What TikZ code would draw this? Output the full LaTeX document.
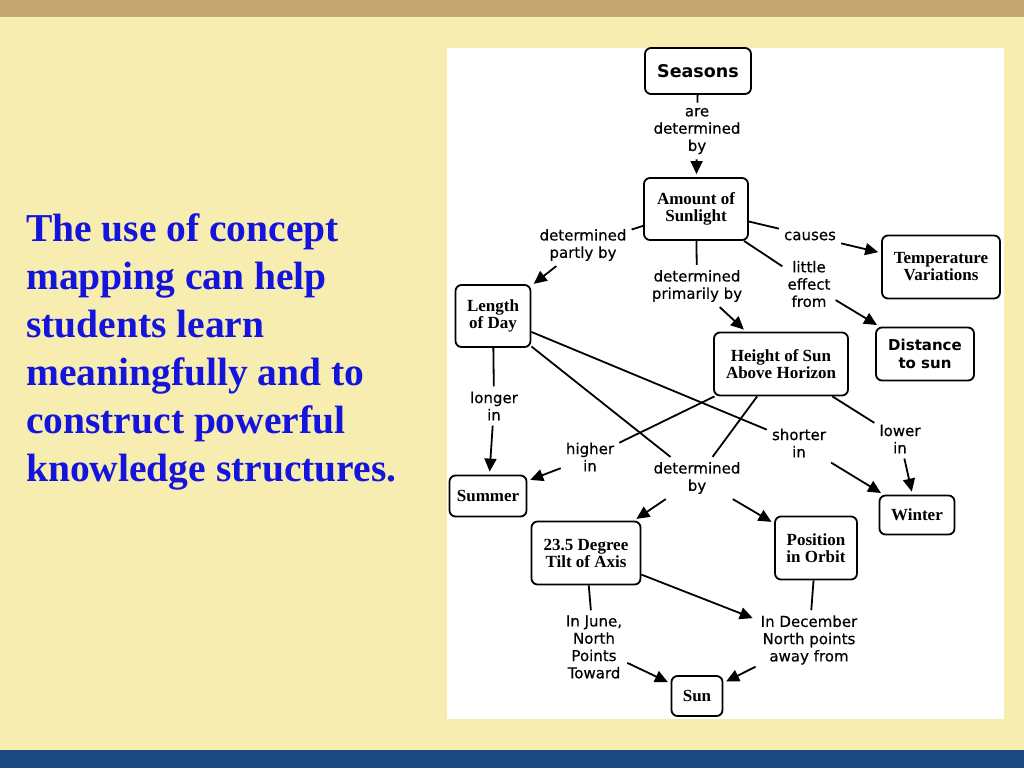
\documentclass[tikz,border=0pt]{standalone}
\usepackage{fontspec}
\setmainfont{Liberation Serif}
\newfontfamily\lblfamily{DejaVu Sans}[FakeBold=0.45]
\newfontfamily\lblboldfamily{DejaVu Sans Bold}
\usetikzlibrary{arrows.meta}
\definecolor{tanband}{HTML}{C5A572}
\definecolor{slidebg}{HTML}{F7EDB0}
\definecolor{blueband}{HTML}{1B4A80}
\definecolor{textblue}{HTML}{1414DC}
\begin{document}
\begin{tikzpicture}[x=1pt,y=-1pt,
  concept/.style={draw, line width=1.8pt, rounded corners=6pt, fill=white, align=center, inner sep=0pt,
    font=\bfseries\fontsize{17}{17}\selectfont},
  sansconcept/.style={concept, font=\lblboldfamily\fontsize{15}{18}\selectfont},
  linklabel/.style={align=center, inner sep=5pt, font=\lblfamily\fontsize{15}{17.3}\selectfont},
  link/.style={line width=1.8pt},
  linkarrow/.style={line width=1.8pt, -{Triangle[length=13pt,width=12pt]}, shorten >=3pt},
]
% background
\fill[slidebg] (0,0) rectangle (1024,768);
\fill[tanband] (0,0) rectangle (1024,17);
\fill[blueband] (0,750) rectangle (1024,768);
\fill[white] (447,48) rectangle (1004,719);
\useasboundingbox (0,0) rectangle (1024,768);

% left text
\node[anchor=north west, inner sep=0pt, align=left, text=textblue,
  font=\bfseries\fontsize{39.5}{48}\selectfont] (intro) at (26,213)
  {The use of concept\\mapping can help\\students learn\\meaningfully and to\\construct powerful\\knowledge structures.};

% concepts
\node[sansconcept, minimum width=106pt, minimum height=46pt, font=\lblboldfamily\fontsize{17.5}{18}\selectfont] (seasons) at (698,71) {Seasons};
\node[concept, minimum width=104pt, minimum height=62pt] (amount) at (696,209) {Amount of\\Sunlight};
\node[concept, minimum width=118pt, minimum height=63pt] (temp) at (941,267) {Temperature\\Variations};
\node[sansconcept, minimum width=98pt, minimum height=53pt] (dist) at (925,354) {Distance\\to sun};
\node[concept, minimum width=75pt, minimum height=62pt] (lod) at (493,316) {Length\\of Day};
\node[concept, minimum width=134pt, minimum height=63pt] (height) at (781,364) {Height of Sun\\Above Horizon};
\node[concept, minimum width=77pt, minimum height=41pt] (summer) at (488,496) {Summer};
\node[concept, minimum width=75pt, minimum height=39pt] (winter) at (917,515) {Winter};
\node[concept, minimum width=109pt, minimum height=63pt] (tilt) at (586,553) {23.5 Degree\\Tilt of Axis};
\node[concept, minimum width=82pt, minimum height=63pt] (pos) at (816,548) {Position\\in Orbit};
\node[concept, minimum width=51pt, minimum height=40pt] (sun) at (697,696) {Sun};

% link labels
\node[linklabel] (l1) at (697,131) {are\\determined\\by};
\node[linklabel] (l2) at (583,245) {determined\\partly by};
\node[linklabel] (l3) at (810,236) {causes};
\node[linklabel] (l4) at (809,284) {little\\effect\\from};
\node[linklabel] (l5) at (697,286) {determined\\primarily by};
\node[linklabel] (l6) at (494,406) {longer\\in};
\node[linklabel] (l7) at (799,443) {shorter\\in};
\node[linklabel] (l8) at (590,457) {higher\\in};
\node[linklabel] (l9) at (900,439) {lower\\in};
\node[linklabel] (l10) at (697,478) {determined\\by};
\node[linklabel] (l11) at (594,647) {In June,\\North\\Points\\Toward};
\node[linklabel] (l12) at (809,640) {In December\\North points\\away from};

% connectors
\draw[link] (seasons) -- (l1);
\draw[linkarrow] (l1) -- (amount);
\draw[link] (amount) -- (l2);
\draw[linkarrow] (l2) -- (lod);
\draw[link] (amount) -- (l3);
\draw[linkarrow] (l3) -- (temp);
\draw[link] (amount) -- (l4);
\draw[linkarrow] (l4) -- (dist);
\draw[link] (amount) -- (l5);
\draw[linkarrow] (l5) -- (height);
\draw[link] (lod) -- (l6);
\draw[linkarrow] (l6) -- (summer);
\draw[link] (lod) -- (l7);
\draw[linkarrow] (l7) -- (winter);
\draw[link] (lod) -- (l10);
\draw[link] (height) -- (l8);
\draw[linkarrow] (l8) -- (summer);
\draw[link] (height) -- (l10);
\draw[link] (height) -- (l9);
\draw[linkarrow] (l9) -- (winter);
\draw[linkarrow] (l10) -- (tilt);
\draw[linkarrow] (l10) -- (pos);
\draw[link] (tilt) -- (l11);
\draw[linkarrow] (l11) -- (sun);
\draw[linkarrow] (tilt) -- (l12);
\draw[link] (pos) -- (l12);
\draw[linkarrow] (l12) -- (sun);
\end{tikzpicture}
\end{document}
